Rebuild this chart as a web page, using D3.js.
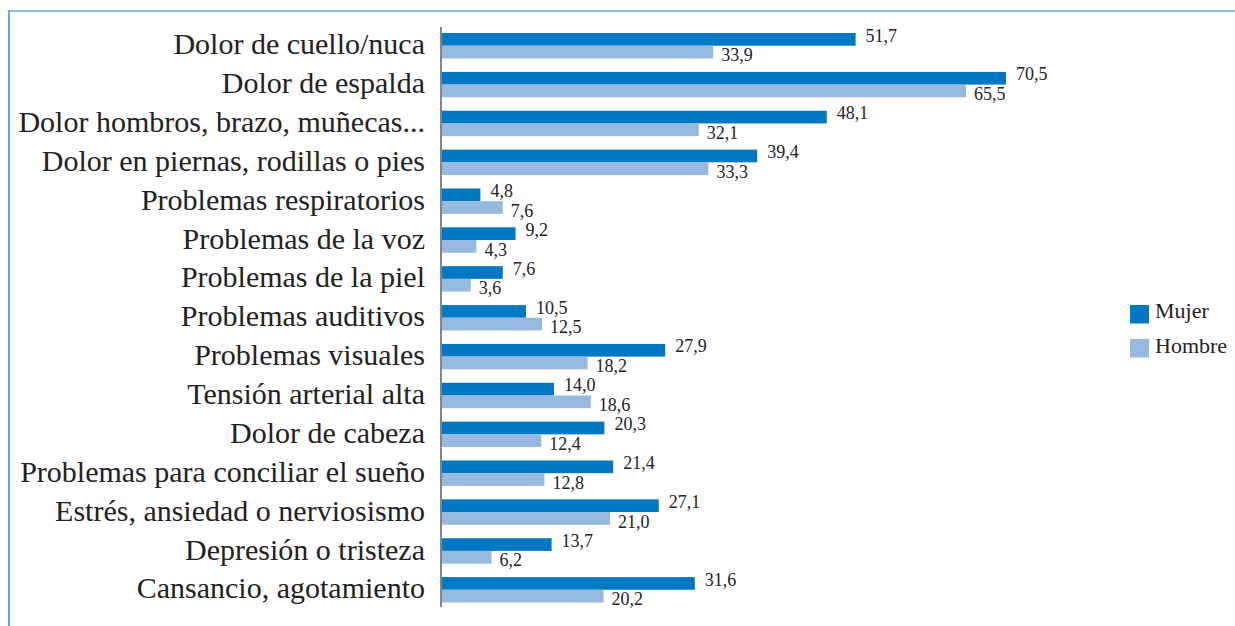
<!DOCTYPE html>
<html><head><meta charset="utf-8">
<script src="https://cdn.jsdelivr.net/npm/d3@7"></script>
</head><body style="margin:0">
<svg id="chart" width="1235" height="626" style="display:block"></svg>
<script>
const categories = ["Dolor de cuello/nuca","Dolor de espalda","Dolor hombros, brazo, muñecas...","Dolor en piernas, rodillas o pies","Problemas respiratorios","Problemas de la voz","Problemas de la piel","Problemas auditivos","Problemas visuales","Tensión arterial alta","Dolor de cabeza","Problemas para conciliar el sueño","Estrés, ansiedad o nerviosismo","Depresión o tristeza","Cansancio, agotamiento"];
const mujer = [51.7,70.5,48.1,39.4,4.8,9.2,7.6,10.5,27.9,14.0,20.3,21.4,27.1,13.7,31.6];
const hombre = [33.9,65.5,32.1,33.3,7.6,4.3,3.6,12.5,18.2,18.6,12.4,12.8,21.0,6.2,20.2];
const seriesNames = ["Mujer","Hombre"];
const colors = ["#0078c2","#96b9e0"];

const svg = d3.select("#chart");
const FF = '"Liberation Serif"';

// frame
svg.append("line").attr("x1",9).attr("x2",1235).attr("y1",11).attr("y2",11).attr("stroke","#58a8dc").attr("stroke-width",1.6);
svg.append("line").attr("x1",9).attr("x2",9).attr("y1",10.2).attr("y2",626).attr("stroke","#3f94d0").attr("stroke-width",1.6);

const x0 = 441;
const x = d3.scaleLinear().domain([0,70.5]).range([x0+1, 1006]);
const y = d3.scaleBand().domain(categories).range([26.3, 609.2]).padding(0);
const inner = d3.scaleBand().domain(seriesNames).range([0,25.4]);

const fmt = v => v.toFixed(1).replace(".",",");

const rows = categories.map((c,i)=>({c, vals:[mujer[i],hombre[i]]}));
const g = svg.append("g");
rows.forEach(r=>{
  const top = y(r.c) + y.bandwidth()/2 - 12.7;
  r.vals.forEach((v,k)=>{
    const s = seriesNames[k];
    g.append("rect").attr("x",x(0)).attr("y",top+inner(s)).attr("width",x(v)-x(0)).attr("height",inner.bandwidth()).attr("fill",colors[k]);
    g.append("text").attr("x",x(v)+(k===0?10:8)).attr("y",top+inner(s)+(k===0?8.5:15.5))
      .style("font-family",FF).style("font-size","18px").style("fill","#222").text(fmt(v));
  });
  g.append("text").attr("x",425).attr("y",y(r.c)+y.bandwidth()/2+8.6).attr("text-anchor","end")
    .style("font-family",FF).style("font-size","30px").style("fill","#222").text(r.c);
});

// axis line
svg.append("line").attr("x1",x0).attr("x2",x0).attr("y1",27).attr("y2",607).attr("stroke","#666").attr("stroke-width",1.6);

// legend
const leg = svg.append("g");
seriesNames.forEach((s,k)=>{
  leg.append("rect").attr("x",1130).attr("y",305+k*34).attr("width",19).attr("height",18.5).attr("fill",colors[k]);
  leg.append("text").attr("x",1155).attr("y",318+k*34.7).style("font-family",FF).style("font-size","22px").style("fill","#222").text(s);
});
</script>
</body></html>
